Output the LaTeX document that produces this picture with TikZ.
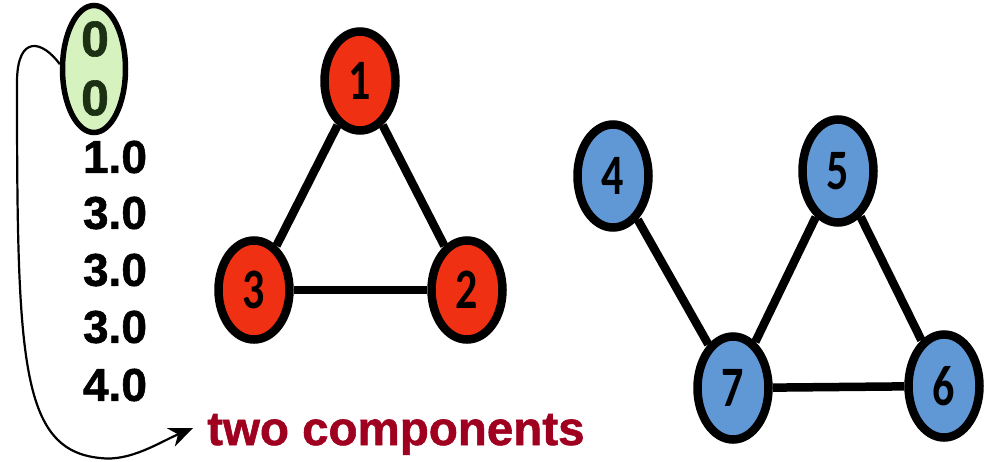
\documentclass[tikz,border=0pt]{standalone}
\usepackage{fontspec}
\setmainfont{Liberation Sans}
\newfontfamily\digfont{Carlito}
\newfontfamily\heavyfont[FakeBold=1.2]{Liberation Sans Bold}
\usetikzlibrary{shapes.geometric,arrows.meta}
\definecolor{redfill}{RGB}{240,48,18}
\definecolor{bluefill}{RGB}{96,152,214}
\definecolor{selfill}{RGB}{214,242,190}
\definecolor{darkred}{RGB}{160,0,32}
\definecolor{zerocol}{RGB}{28,48,20}
\tikzset{
  gnode/.style={ellipse,draw=black,line width=8.5pt,inner sep=0pt,minimum width=71pt,
    font=\digfont\bfseries\fontsize{44}{44}\selectfont},
  rnode/.style={gnode,fill=redfill,minimum height=99pt},
  bnode/.style={gnode,fill=bluefill,minimum height=103pt},
  gedge/.style={line width=8.5pt},
  numtxt/.style={font=\heavyfont\fontsize{46}{50}\selectfont,inner sep=0pt},
  zerotxt/.style={font=\heavyfont\fontsize{50}{50}\selectfont,inner sep=0pt,text=zerocol},
  seloval/.style={ellipse,draw=black,line width=5.5pt,fill=selfill,minimum width=63pt,minimum height=127pt,inner sep=0pt},
}
\newcommand{\dig}[1]{\scalebox{1}[1.3]{#1}}
\begin{document}
\begin{tikzpicture}[x=1pt,y=-1pt]
\useasboundingbox (0,0) rectangle (990,461);
% selection oval
\node[seloval] (sel) at (94,69) {};
\node[zerotxt] (z1) at (95,39) {0};
\node[zerotxt] (z2) at (95,98) {0};
\node[numtxt] (n1) at (115,157) {1.0};
\node[numtxt] (n2) at (115,213) {3.0};
\node[numtxt] (n3) at (115,270) {3.0};
\node[numtxt] (n4) at (115,327) {3.0};
\node[numtxt] (n5) at (115,385) {4.0};
\node[font=\heavyfont\fontsize{47.5}{50}\selectfont,inner sep=0pt,text=darkred,anchor=base west] (tc) at (207,445) {two components};
\coordinate (tip) at (193,428);
\draw[line width=2.2pt,-{Stealth[length=24pt,width=20pt]}]
  (sel.172) .. controls (42,40) and (18,35) .. (17,80)
  .. controls (17,360) and (20,450) .. (100,458)
  .. controls (130,462) and (160,442) .. (tip);
% red component
\node[rnode] (r1) at (360,81) {\dig{1}};
\node[rnode] (r3) at (254,290) {\dig{3}};
\node[rnode] (r2) at (467,290) {\dig{2}};
\draw[gedge] (r1) -- (r3);
\draw[gedge] (r1) -- (r2);
\draw[gedge] (r3) -- (r2);
% blue component
\node[bnode] (b4) at (613,176) {\dig{4}};
\node[bnode] (b5) at (838,171) {\dig{5}};
\node[bnode] (b7) at (733,388) {\dig{7}};
\node[bnode] (b6) at (944,386) {\dig{6}};
\draw[gedge] (b4) -- (b7);
\draw[gedge] (b5) -- (b7);
\draw[gedge] (b5) -- (b6);
\draw[gedge] (b7) -- (b6);
\end{tikzpicture}
\end{document}
